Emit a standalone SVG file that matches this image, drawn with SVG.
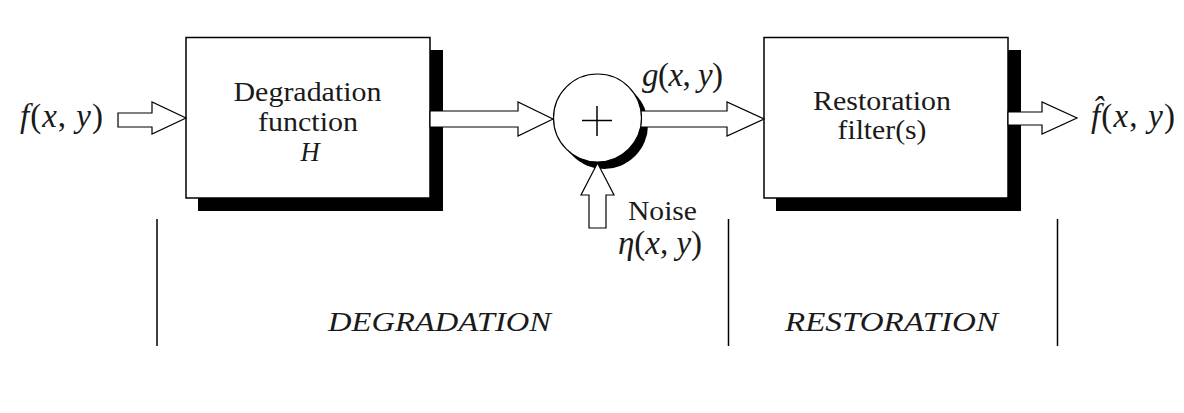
<svg xmlns="http://www.w3.org/2000/svg" width="1184" height="413" viewBox="0 0 1184 413">
<style>
  .box { fill: #fff; stroke: #000; stroke-width: 1.5; }
  .shadow { fill: #000; }
  .arrow { fill: #fff; stroke: #000; stroke-width: 1.2; stroke-linejoin: miter; }
  .t { font-family: "Liberation Serif", "Times New Roman", serif; font-size: 26.5px; fill: #1a1a1a; }
  .m { font-family: "Liberation Serif", "Times New Roman", serif; font-size: 33px; fill: #1a1a1a; }
  .i { font-style: italic; }
  .sep { stroke: #000; stroke-width: 1.5; }
</style>
<rect x="0" y="0" width="1184" height="413" fill="#fff"/>

<g id="degradation-box">
  <rect class="shadow" x="198" y="50" width="245" height="161"/>
  <rect class="box" x="186" y="37.5" width="244" height="160.5"/>
  <text class="t" x="307.5" y="101" text-anchor="middle" textLength="148" lengthAdjust="spacingAndGlyphs">Degradation</text>
  <text class="t" x="308" y="130.5" text-anchor="middle" textLength="100" lengthAdjust="spacingAndGlyphs">function</text>
  <text class="t i" x="310" y="160.5" text-anchor="middle" font-size="27">H</text>
</g>

<g id="restoration-box">
  <rect class="shadow" x="776" y="50" width="245" height="161"/>
  <rect class="box" x="764" y="37.5" width="244" height="160.5"/>
  <text class="t" x="882" y="109.5" text-anchor="middle" textLength="138" lengthAdjust="spacingAndGlyphs">Restoration</text>
  <text class="t" x="882" y="139" text-anchor="middle" textLength="89" lengthAdjust="spacingAndGlyphs">filter(s)</text>
</g>

<g id="summing-junction">
  <circle class="shadow" cx="604" cy="125" r="44"/>
</g>

<g id="connectors">
  <polygon class="arrow" points="118,113 152,113 152,102 186,118 152,134 152,127 118,127"/>
  <polygon class="arrow" points="430,111 518,111 518,102 553,119 518,136 518,127 430,127"/>
  <polygon class="arrow" points="632,111 727,111 727,102 764,119 727,136 727,127 632,127"/>
  <polygon class="arrow" points="1008,112 1042,112 1042,102 1077,118 1042,134 1042,125 1008,125"/>
</g>

<g id="summing-node">
  <circle cx="597.5" cy="118" r="44" fill="#fff" stroke="#000" stroke-width="1.2"/>
  <line x1="582" y1="120.5" x2="612" y2="120.5" stroke="#000" stroke-width="1.5"/>
  <line x1="597" y1="106" x2="597" y2="136" stroke="#000" stroke-width="1.5"/>
</g>

<g id="noise-input">
  <polygon class="arrow" points="589,228 589,195 581,195 597.5,163 614,195 606,195 606,228"/>
  <text class="t" x="628" y="220" font-size="27" textLength="69" lengthAdjust="spacingAndGlyphs">Noise</text>
  <text class="m" x="618" y="254" font-size="31" textLength="84" lengthAdjust="spacing"><tspan class="i">η</tspan>(<tspan class="i">x</tspan>, <tspan class="i">y</tspan>)</text>
</g>

<g id="input-label">
  <text class="m" x="20" y="127" textLength="83" lengthAdjust="spacing"><tspan class="i">f</tspan>(<tspan class="i">x</tspan>, <tspan class="i">y</tspan>)</text>
</g>

<g id="g-label">
  <text class="m" x="642" y="86" textLength="81" lengthAdjust="spacing"><tspan class="i">g</tspan>(<tspan class="i">x</tspan>, <tspan class="i">y</tspan>)</text>
</g>

<g id="output-label">
  <text class="m" x="1091" y="127" textLength="84" lengthAdjust="spacing"><tspan class="i">f̂</tspan>(<tspan class="i">x</tspan>, <tspan class="i">y</tspan>)</text>
</g>

<g id="stage-separators">
  <line class="sep" x1="157" y1="219" x2="157" y2="346"/>
  <line class="sep" x1="728.5" y1="219" x2="728.5" y2="346"/>
  <line class="sep" x1="1057.5" y1="219" x2="1057.5" y2="346"/>
  <text class="t i" x="328" y="331" font-size="27" textLength="223" lengthAdjust="spacingAndGlyphs">DEGRADATION</text>
  <text class="t i" x="785" y="331" font-size="27" textLength="213" lengthAdjust="spacingAndGlyphs">RESTORATION</text>
</g>
</svg>
